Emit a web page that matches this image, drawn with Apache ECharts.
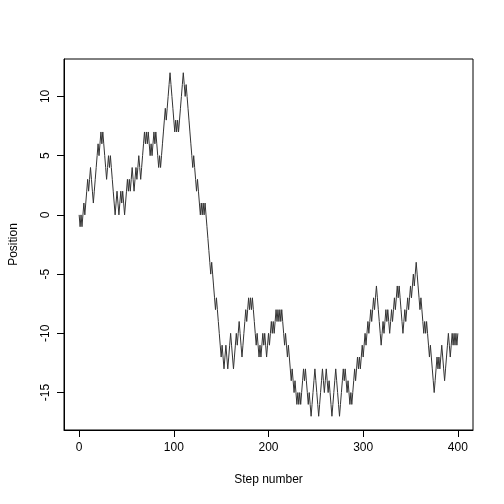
<!DOCTYPE html><html><head><meta charset="utf-8"><script src="https://cdn.jsdelivr.net/npm/echarts@6/dist/echarts.min.js"></script></head><body style="margin:0"><div id="c" style="width:504px;height:504px"></div><script>
const positions=[0,-1,0,-1,0,1,0,1,2,3,
2,3,4,3,2,1,2,3,4,5,
6,5,6,7,6,7,6,5,4,3,
4,5,4,5,4,3,2,1,0,1,
2,1,0,1,2,1,2,1,0,1,
2,3,2,3,2,3,4,3,2,3,
4,3,4,5,4,3,4,5,6,7,
6,7,6,7,6,5,6,5,6,7,
6,7,6,5,4,5,4,5,6,7,
8,9,8,9,10,11,12,11,10,9,
8,7,8,7,8,7,8,9,10,11,
12,11,10,11,10,9,8,7,6,5,
4,5,4,3,2,3,2,1,0,1,
0,1,0,1,0,-1,-2,-3,-4,-5,
-4,-5,-6,-7,-8,-7,-8,-9,-10,-11,
-12,-11,-12,-13,-12,-11,-12,-13,-12,-11,
-10,-11,-12,-13,-12,-11,-10,-11,-10,-9,
-10,-11,-12,-11,-10,-9,-8,-9,-8,-7,
-8,-7,-8,-7,-8,-9,-10,-11,-10,-11,
-12,-11,-12,-11,-10,-11,-10,-11,-12,-11,
-10,-11,-10,-9,-10,-9,-10,-9,-8,-9,
-8,-9,-8,-9,-8,-9,-10,-11,-10,-11,
-12,-11,-12,-13,-14,-13,-14,-15,-14,-15,
-16,-15,-16,-15,-16,-15,-14,-13,-14,-13,
-14,-15,-16,-15,-16,-17,-16,-15,-14,-13,
-14,-15,-16,-17,-16,-15,-14,-13,-14,-15,
-14,-13,-14,-15,-14,-15,-16,-17,-16,-15,
-14,-13,-14,-15,-16,-17,-16,-15,-14,-13,
-14,-13,-14,-15,-14,-15,-16,-15,-16,-15,
-14,-13,-14,-13,-12,-13,-12,-13,-12,-11,
-12,-11,-10,-11,-10,-9,-10,-9,-8,-9,
-8,-7,-8,-7,-6,-7,-8,-9,-10,-11,
-10,-9,-10,-9,-8,-9,-8,-9,-10,-9,
-8,-9,-8,-7,-8,-7,-6,-7,-6,-7,
-8,-9,-10,-9,-8,-9,-8,-7,-8,-7,
-6,-7,-6,-5,-6,-5,-4,-5,-6,-7,
-8,-7,-8,-9,-10,-9,-10,-9,-10,-11,
-12,-11,-12,-13,-14,-15,-14,-13,-12,-13,
-12,-13,-12,-11,-12,-13,-14,-13,-12,-11,
-10,-11,-12,-11,-10,-11,-10,-11,-10,-11,
-10];
const xTicks=[0,100,200,300,400];
const yTicks=[-15,-10,-5,0,5,10];
const data=positions.map((v,i)=>[i,v]);
const ch=echarts.init(document.getElementById('c'));
const lab={fontFamily:'Liberation Sans',fontSize:12,color:'#000'};
ch.setOption({animation:false,
grid:{left:59,right:31,top:59,bottom:74,show:true,borderColor:'#000',borderWidth:1,backgroundColor:'transparent'},
xAxis:{type:'value',min:-16,max:416,name:'Step number',nameLocation:'middle',nameGap:44,nameTextStyle:lab,
 axisLine:{show:true,onZero:false,lineStyle:{color:'#000'}},axisTick:{show:true,length:7,lineStyle:{color:'#000'},customValues:xTicks},
 axisLabel:Object.assign({margin:12,customValues:xTicks},lab),splitLine:{show:false}},
yAxis:{type:'value',min:-18.16,max:13.16,name:'Position',nameLocation:'middle',nameGap:44,nameTextStyle:lab,
 axisLine:{show:true,onZero:false,lineStyle:{color:'#000'}},axisTick:{show:true,length:7,lineStyle:{color:'#000'},customValues:yTicks},
 axisLabel:Object.assign({margin:12,rotate:90,customValues:yTicks},lab),splitLine:{show:false}},
series:[{type:'line',data:data,showSymbol:false,lineStyle:{color:'#333',width:1}}]});
</script></body></html>
